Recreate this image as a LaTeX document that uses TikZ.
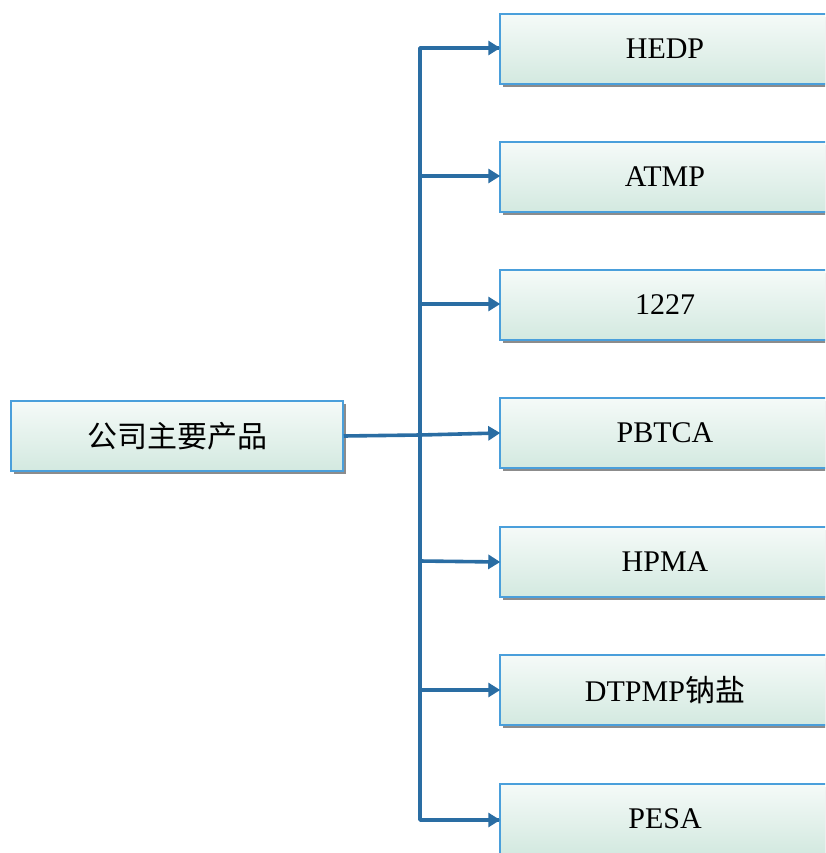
\documentclass[tikz,border=0pt]{standalone}
\usepackage{fontspec}
\setmainfont{Liberation Serif}
\newfontfamily\cjk{Noto Sans CJK SC}
\usetikzlibrary{shadows,arrows.meta}
\definecolor{boxline}{HTML}{4A9FDB}
\definecolor{boxtop}{HTML}{F5FAF8}
\definecolor{boxbot}{HTML}{D3E9E0}
\definecolor{conncol}{HTML}{2A6DA3}
\tikzset{
  prodbox/.style={draw=boxline, line width=1.5pt, top color=boxtop, bottom color=boxbot,
    minimum width=330pt, minimum height=70pt, inner sep=0pt,
    font=\fontsize{30}{30}\selectfont,
    drop shadow={shadow xshift=3pt, shadow yshift=-3pt, fill=black!45, opacity=1}},
  conn/.style={draw=conncol, line width=3.6pt},
  arr/.style={conn, -{Triangle[length=12pt,width=14pt]}, shorten >=-1pt}
}
\begin{document}
\begin{tikzpicture}[x=1pt,y=-1pt]
\useasboundingbox (0,0) rectangle (825,853);
\clip (0,0) rectangle (825,853);
\node[prodbox, minimum width=332pt] (main) at (177,436) {\cjk 公司主要产品};
\node[prodbox] (p1) at (665,49) {HEDP};
\node[prodbox] (p2) at (665,177) {ATMP};
\node[prodbox] (p3) at (665,305) {1227};
\node[prodbox] (p4) at (665,433) {PBTCA};
\node[prodbox] (p5) at (665,562) {HPMA};
\node[prodbox] (p6) at (665,690) {DTPMP{\cjk 钠盐}};
\node[prodbox] (p7) at (665,819) {PESA};
\coordinate (j1) at (420,48);
\coordinate (j2) at (420,176);
\coordinate (j3) at (420,304);
\coordinate (j4) at (420,435);
\coordinate (j5) at (420,561);
\coordinate (j6) at (420,690);
\coordinate (j7) at (420,820);
\draw[conn, line join=round] (j1 -| p1.west) -- (j1) -- (j7) -- (j7 -| p7.west);
\draw[arr] (j1) -- (j1 -| p1.west);
\draw[arr] (j7) -- (j7 -| p7.west);
\draw[arr] (j2) -- (j2 -| p2.west);
\draw[arr] (j3) -- (j3 -| p3.west);
\draw[conn] (main.east) -- (j4);
\draw[arr] (j4) -- (p4.west);
\draw[arr] (j5) -- (p5.west);
\draw[arr] (j6) -- (j6 -| p6.west);
\end{tikzpicture}
\end{document}
